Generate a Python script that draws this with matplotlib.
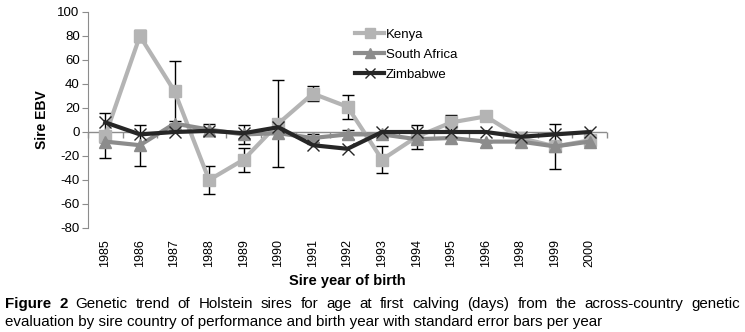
import matplotlib.pyplot as plt
import numpy as np

years = ['1985', '1986', '1987', '1988', '1989', '1990', '1991', '1992',
         '1993', '1994', '1995', '1996', '1998', '1999', '2000']
kenya = [-3, 80, 34, -40, -23, 7, 32, 21, -23, -4, 8, 13, -5, -12, -7]
south_africa = [-8, -11, 7, 2, -2, -1, -5, -2, -2, -6, -5, -8, -8, -12, -8]
zimbabwe = [8, -2, 0, 1, -1, 4, -11, -14, 0, 0, 0, 0, -4, -2, 0]
kenya_se = [19, 5, 25, 12, 10, 36, 6, 10, 11, 10, 6, 0, 0, 19, 0]
sa_se = [0, 17, 0, 5, 8, 0, 3, 4, 0, 0, 0, 0, 0, 0, 0]

caption1 = 'Genetic trend of Holstein sires for age at first calving (days) from the across-country genetic'
caption2 = 'evaluation by sire country of performance and birth year with standard error bars per year'

plt.rcParams['font.family'] = ['Liberation Sans', 'DejaVu Sans']
plt.rcParams['axes.unicode_minus'] = False

fig = plt.figure(figsize=(7.45, 3.32), dpi=100)
ax = fig.add_axes([88 / 745, 1 - 228 / 332, 519 / 745, 216 / 332])

x = np.arange(len(years))

# zero line with category boundary ticks
ax.axhline(0, color='#8c8c8c', lw=1, zorder=1)
zero = ax.secondary_xaxis(80 / 180)
zero.set_xticks(np.arange(len(years) + 1) - 0.5)
zero.set_xticklabels([])
zero.tick_params(axis='x', length=4, color='#8c8c8c', width=1)
zero.spines['bottom'].set_visible(False)

ax.errorbar(x, kenya, yerr=kenya_se, fmt='none', ecolor='black', elinewidth=1,
            capsize=4, capthick=1, zorder=2)
ax.errorbar(x, south_africa, yerr=sa_se, fmt='none', ecolor='black', elinewidth=1,
            capsize=4, capthick=1, zorder=2)

ax.plot(x, kenya, color='#b4b4b4', lw=3, marker='s', markersize=9, label='Kenya', zorder=3)
ax.plot(x, south_africa, color='#8c8c8c', lw=3, marker='^', markersize=9, label='South Africa', zorder=4)
ax.plot(x, zimbabwe, color='#262626', lw=3, marker='x', markersize=9, mew=1,
        label='Zimbabwe', zorder=5)

ax.set_xlim(-0.5, len(years) - 0.5)
ax.set_ylim(-80, 100)
ax.set_yticks(range(-80, 101, 20))
ax.set_xticks(x)
ax.set_xticklabels(years, rotation=90)
ax.tick_params(axis='x', length=0, labelsize=9, pad=8)
ax.tick_params(axis='y', length=4, color='#8c8c8c', labelsize=9.5, pad=2)

for s in ['top', 'right', 'bottom']:
    ax.spines[s].set_visible(False)
ax.spines['left'].set_color('#8c8c8c')

ax.set_ylabel('Sire EBV', fontsize=10, fontweight='bold', labelpad=6)
ax.set_xlabel('Sire year of birth', fontsize=10.5, fontweight='bold', labelpad=5)

ax.legend(loc='upper left', bbox_to_anchor=(350 / 745, 1 - 23 / 332),
          bbox_transform=fig.transFigure, frameon=False, fontsize=9.5,
          handlelength=2.2, handletextpad=0.1, labelspacing=0.6, borderaxespad=0,
          markerscale=0.8)

# caption, first line justified
cap_size = 10.9
y1 = 1 - 304 / 332
y2 = 1 - 322 / 332
fig.canvas.draw()
r = fig.canvas.get_renderer()
words = [('Figure', 'bold'), ('2', 'bold')] + [(w, 'normal') for w in caption1.split()]
items = []
total = 0
for w, wt in words:
    t = fig.text(0, y1, w, fontsize=cap_size, fontweight=wt, va='center')
    wpx = t.get_window_extent(r).width
    items.append((t, wpx))
    total += wpx
left, right = 5, 740
gap = (right - left - total) / (len(items) - 1)
pos = left
for t, wpx in items:
    t.set_x(pos / 745)
    pos += wpx + gap
fig.text(5 / 745, y2, caption2, fontsize=cap_size, va='center')

fig.savefig('out.png', dpi=100)
